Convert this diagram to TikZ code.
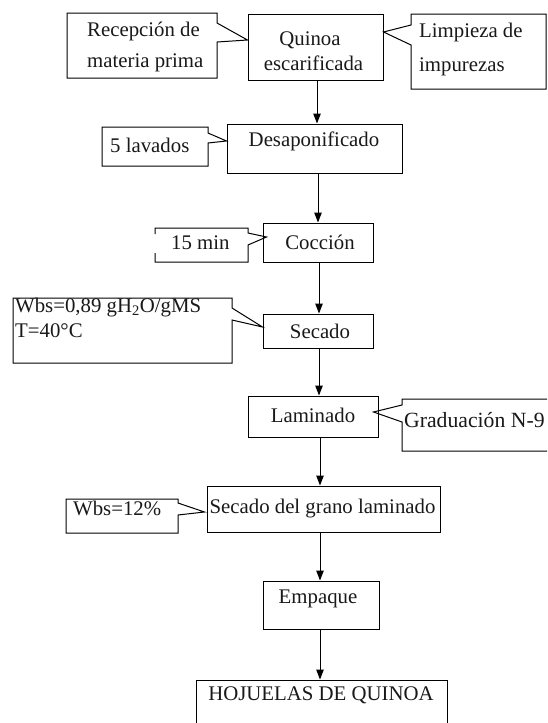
\documentclass[tikz,border=0pt]{standalone}
\usepackage{fontspec}
\setmainfont{Liberation Serif}
\usetikzlibrary{arrows.meta,calc}
\begin{document}
\begin{tikzpicture}[x=1pt,y=-1pt,
  box/.style={draw=black, line width=1pt, inner sep=0pt},
  outl/.style={draw=black, line width=1pt, line join=miter},
  txt/.style={inner sep=0pt, text=black!90, font=\fontsize{20.8}{25}\selectfont},
  arr/.style={draw=black, line width=1pt, -{Triangle[length=10pt,width=7.5pt]}}]
\useasboundingbox (0,0) rectangle (547,723);
\fill[white] (0,0) rectangle (547,723);
\clip (0,0) rectangle (547,723);
% main boxes
\node[box, minimum width=135pt, minimum height=66pt] (quin) at (315.5,47) {};
\node[box, minimum width=175pt, minimum height=49pt] (desa) at (314.5,148.5) {};
\node[box, minimum width=110pt, minimum height=39pt] (cocc) at (318,242.5) {};
\node[box, minimum width=110pt, minimum height=34pt] (seca) at (318,331) {};
\node[box, minimum width=130pt, minimum height=41pt] (lami) at (313,416.5) {};
\node[box, minimum width=233pt, minimum height=46pt] (gran) at (323.5,509) {};
\node[box, minimum width=116pt, minimum height=48pt] (empa) at (321,605) {};
\node[box, minimum width=251pt, minimum height=60pt] (hoju) at (321.5,710) {};
% texts of main boxes
\node[txt, anchor=base] (quinA) at (310,45) {Quinoa};
\node[txt, anchor=base] (quinB) at (313.5,70) {escarificada};
\node[txt, anchor=base] (desaT) at (314,146) {Desaponificado};
\node[txt, anchor=base] (coccT) at (320,249) {Cocción};
\node[txt, anchor=base] (secaT) at (320,338) {Secado};
\node[txt, anchor=base] (lamiT) at (313,422) {Laminado};
\node[txt, anchor=base] (granT) at (322.5,513) {Secado del grano laminado};
\node[txt, anchor=base] (empaT) at (318,603) {Empaque};
\node[txt, anchor=base] (hojuT) at (321,700) {HOJUELAS DE QUINOA};
% callouts
\draw[outl] (67,13) -- (217,13) -- (217,23) -- (quin.west |- 0,40) -- (217,42) -- (217,78) -- (67,78) -- cycle;
\node[txt, anchor=base west] (recA) at (87,36) {Recepción de};
\node[txt, anchor=base west] (recB) at (87,67) {materia prima};
\draw[outl] (411,14) -- (546,14) -- (546,89) -- (411,89) -- (411,45) -- (quin.east |- 0,32) -- (411,25) -- cycle;
\node[txt, anchor=base west] (limA) at (419,37) {Limpieza de};
\node[txt, anchor=base west] (limB) at (419,71) {impurezas};
\draw[outl] (102,127) -- (208,127) -- (208,133) -- (desa.west |- 0,141) -- (208,143) -- (208,166) -- (102,166) -- cycle;
\node[txt, anchor=base west] (lavT) at (110,152) {5 lavados};
\draw[outl] (155,234) -- (155,228) -- (248,228) -- (248,233) -- ($(cocc.west |- 0,237)+(4,0)$) -- (248,245) -- (248,262) -- (155,262) -- (155,253);
\node[txt, anchor=base west] (minT) at (171,249) {15 min};
\draw[outl] (13,298) -- (232,298) -- (232,308) -- (seca.west |- 0,327) -- (232,320) -- (232,363) -- (13,363) -- cycle;
\node[txt, anchor=base west] (wbsA) at (15,312) {Wbs=0,89 gH\textsubscript{2}O/gMS};
\node[txt, anchor=base west] (wbsB) at (15,337) {T=40°C};
\draw[outl] (552,399) -- (402,399) -- (402,405) -- ($(lami.east |- 0,412)+(-5,0)$) -- (402,422) -- (402,451) -- (552,451);
\node[txt, anchor=base west, font=\fontsize{21.7}{25}\selectfont] (graT) at (404,427) {Graduación N-9};
\draw[outl] (66,499) -- (178,499) -- (178,503) -- ($(gran.west |- 0,512)+(-2,0)$) -- (178,515) -- (178,533) -- (66,533) -- cycle;
\node[txt, anchor=base west] (w12T) at (73,515) {Wbs=12\%};
% arrows
\draw[arr] (quin.south -| 317,0) -- (desa.north -| 317,0);
\draw[arr] (desa.south -| 318,0) -- (cocc.north -| 318,0);
\draw[arr] (cocc.south -| 319,0) -- (seca.north -| 319,0);
\draw[arr] (seca.south -| 319,0) -- (lami.north -| 319,0);
\draw[arr] (lami.south -| 320,0) -- (gran.north -| 320,0);
\draw[arr] (gran.south -| 320,0) -- (empa.north -| 320,0);
\draw[arr] (empa.south -| 320,0) -- (hoju.north -| 320,0);
\end{tikzpicture}
\end{document}
